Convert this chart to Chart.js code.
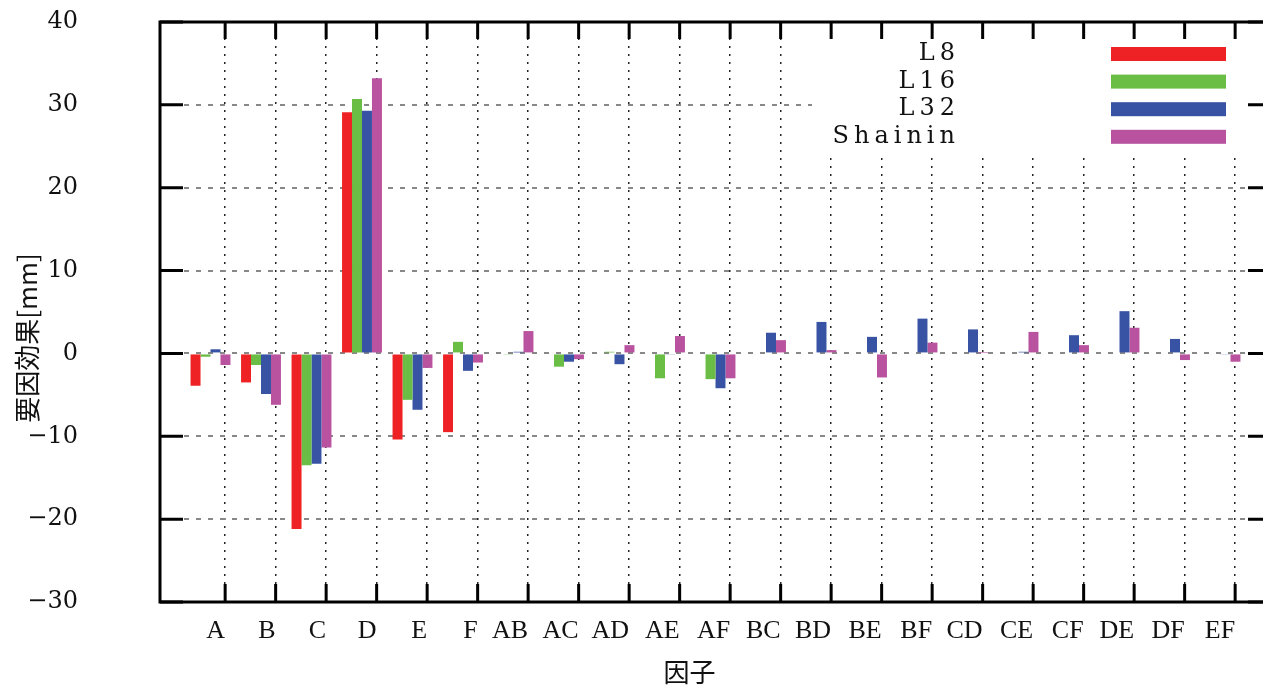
<!DOCTYPE html>
<html lang="ja">
<head>
  <meta charset="UTF-8">
  <title>要因効果</title>
  <style>
    html, body {
      margin: 0;
      padding: 0;
      background: #fff;
      overflow: hidden;
    }
    #wrap {
      width: 1272px;
      height: 685px;
    }
  </style>
</head>
<body>
  <div id="wrap">
    <canvas id="effectChart" width="1272" height="685"></canvas>
  </div>

  <script src="https://cdn.jsdelivr.net/npm/chart.js"></script>
  <script>
    // 因子
    const categories = ['A', 'B', 'C', 'D', 'E', 'F', 'AB', 'AC', 'AD', 'AE', 'AF',
      'BC', 'BD', 'BE', 'BF', 'CD', 'CE', 'CF', 'DE', 'DF', 'EF'];

    // 要因効果 [mm]
    const l8 = [-3.9, -3.5, -21.2, 29.1, -10.4, -9.5,
      null, null, null, null, null, null, null, null, null, null, null, null, null, null, null];
    const l16 = [-0.4, -1.4, -13.5, 30.7, -5.6, 1.4,
      -0.15, -1.6, 0.2, -3.0, -3.1, null, null, null, null, null, null, null, null, null, null];
    const l32 = [0.5, -4.9, -13.3, 29.3, -6.8, -2.1,
      0.2, -1.0, -1.3, -0.1, -4.2, 2.5, 3.8, 2.0, 4.2, 2.9, 0.2, 2.2, 5.1, 1.75, -0.1];
    const shainin = [-1.4, -6.2, -11.35, 33.2, -1.75, -1.1,
      2.7, -0.7, 1.0, 2.1, -3.0, 1.6, 0.4, -2.9, 1.3, 0.05, 2.6, 1.0, 3.1, -0.8, -1.0];

    const seriesNames = ['L8', 'L16', 'L32', 'Shainin'];
    const seriesColors = ['#ee2224', '#6abd45', '#3853a4', '#b9529f'];

    const yTicks = [-30, -20, -10, 0, 10, 20, 30, 40];
    const tickShift = 0.29; // 目盛りは棒グループの中心より少し右

    const toPoints = arr => arr.map((v, i) => ({ x: i, y: v }));

    // 凡例の背景（グリッドの上、棒の下）
    const legendBg = {
      id: 'legendBg',
      beforeDatasetsDraw(chart) {
        const ctx = chart.ctx;
        const a = chart.chartArea;
        ctx.save();
        ctx.fillStyle = '#fff';
        ctx.fillRect(812, a.top, a.right - 812, 152 - a.top);
        ctx.restore();
      }
    };

    // 枠・内向きの目盛り・凡例
    const frame = {
      id: 'frame',
      afterDraw(chart) {
        const ctx = chart.ctx;
        const a = chart.chartArea;
        const xs = chart.scales.x;
        const ys = chart.scales.y;
        ctx.save();
        ctx.strokeStyle = '#000';
        ctx.lineWidth = 3;
        ctx.beginPath();
        ys.ticks.forEach(t => {
          const py = ys.getPixelForValue(t.value);
          ctx.moveTo(a.left, py); ctx.lineTo(a.left + 23, py);
          ctx.moveTo(a.right, py); ctx.lineTo(a.right - 23, py);
        });
        xs.ticks.forEach(t => {
          const px = xs.getPixelForValue(t.value);
          ctx.moveTo(px, a.bottom); ctx.lineTo(px, a.bottom - 18);
          ctx.moveTo(px, a.top); ctx.lineTo(px, a.top + 17);
        });
        ctx.stroke();
        ctx.strokeRect(a.left, a.top, a.right - a.left, a.bottom - a.top);

        // 凡例
        ctx.font = '24px "DejaVu Serif"';
        ctx.textAlign = 'right';
        ctx.textBaseline = 'middle';
        ctx.letterSpacing = '5px';
        chart.data.datasets.forEach((ds, i) => {
          const y = 54 + i * 27.6;
          ctx.fillStyle = '#111';
          ctx.fillText(ds.label, 960, y);
          ctx.fillStyle = ds.backgroundColor;
          ctx.fillRect(1111, y - 7, 115, 14);
        });
        ctx.letterSpacing = '0px';
        ctx.restore();
      }
    };

    const ctx = document.getElementById('effectChart').getContext('2d');
    new Chart(ctx, {
      type: 'bar',
      data: {
        datasets: [l8, l16, l32, shainin].map((arr, i) => ({
          label: seriesNames[i],
          data: toPoints(arr),
          backgroundColor: seriesColors[i],
          borderWidth: 0,
          categoryPercentage: 0.79,
          barPercentage: 1.0
        }))
      },
      options: {
        responsive: false,
        animation: false,
        layout: { padding: { top: 22, right: 1, left: 0, bottom: 0 } },
        plugins: {
          legend: { display: false },
          tooltip: { enabled: false }
        },
        scales: {
          x: {
            type: 'linear',
            min: -1,
            max: 21,
            offset: false,
            afterFit(scale) {
              scale.height = 83;
              scale.paddingLeft = 0;
              scale.paddingRight = 0;
            },
            afterBuildTicks(scale) {
              scale.ticks = categories.map((c, i) => ({ value: i + tickShift }));
            },
            ticks: {
              autoSkip: false,
              maxRotation: 0,
              align: 'end',
              padding: 14,
              color: '#111',
              font: { family: '"Liberation Serif"', size: 26 },
              callback: (v, i) => categories[i]
            },
            grid: {
              offset: false,
              drawTicks: false,
              color: '#222',
              lineWidth: 1.5
            },
            border: { display: false, dash: [2, 6] },
            title: {
              display: true,
              text: '因子\u3000\u3000',
              color: '#111',
              font: { family: '"Noto Sans CJK JP"', size: 26, lineHeight: 1 },
              padding: { top: 0, bottom: 0 }
            }
          },
          y: {
            min: -30,
            max: 40,
            afterFit(scale) {
              scale.width = 160;
              scale.paddingTop = 0;
              scale.paddingBottom = 0;
            },
            afterBuildTicks(scale) {
              scale.ticks = yTicks.map(v => ({ value: v }));
            },
            ticks: {
              padding: 82,
              color: '#111',
              font: { family: '"DejaVu Serif"', size: 24 },
              callback: v => (v < 0 ? '\u2212' + Math.abs(v) : String(v))
            },
            grid: {
              drawTicks: false,
              color: '#888',
              lineWidth: 2
            },
            border: { display: false, dash: [5, 7] },
            title: {
              display: true,
              text: '要因効果[mm]\u3000\u3000',
              color: '#111',
              font: { family: '"Noto Sans CJK JP"', size: 26, lineHeight: 1 },
              padding: { top: 14, bottom: 0 }
            }
          }
        }
      },
      plugins: [legendBg, frame]
    });
  </script>
</body>
</html>
